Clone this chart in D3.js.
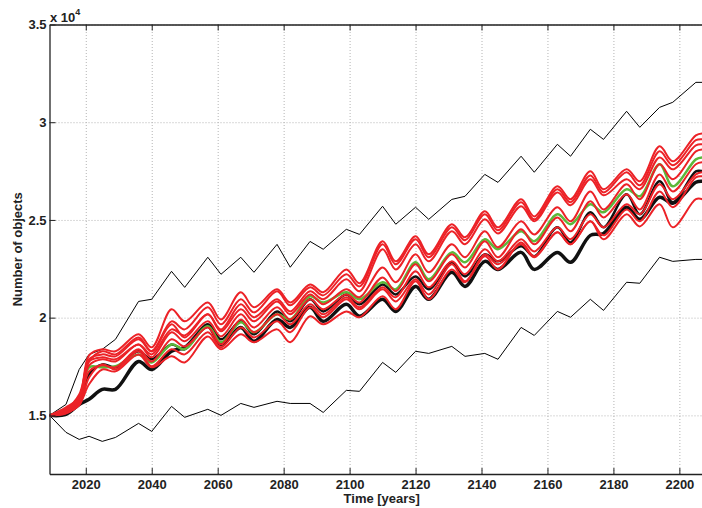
<!DOCTYPE html>
<html>
<head>
<meta charset="utf-8">
<script src="https://cdn.jsdelivr.net/npm/d3@7"></script>
<style>
  body { margin: 0; background: #fff; }
  svg { display: block; font-family: "Liberation Sans", Arial, sans-serif; }
  .tick text { font-size: 13px; font-weight: bold; fill: #222; }
  .grid line { stroke: #b4b4b4; stroke-dasharray: 1,2; }
  .grid path { display: none; }
</style>
</head>
<body>
<svg id="chart" width="702" height="508"></svg>
<script>
// sample years (peaks / troughs of the solar cycle wiggle)
const years = [2009, 2014, 2018, 2021, 2025, 2029, 2036, 2040, 2046, 2050, 2057, 2061, 2067, 2071, 2078, 2082,
  2088, 2092, 2099, 2103, 2110, 2114, 2120, 2124, 2131, 2135, 2141, 2145, 2152, 2156, 2163, 2167, 2173, 2177,
  2184, 2188, 2194, 2198, 2205, 2207];

// thin black: upper and lower bounds
const envHigh = [15000, 15560, 17350, 18120, 18380, 18890, 20830, 20940, 22370, 21550, 23090, 22220, 23090, 22320,
  23750, 22580, 23900, 23500, 24520, 24260, 25700, 24780, 25650, 25030, 26050, 26210, 27330, 26920, 28260, 27440,
  28870, 28260, 29640, 29120, 30560, 29740, 30760, 31020, 32040, 32040];
const envLow = [15000, 14130, 13770, 13930, 13670, 13870, 14590, 14180, 15460, 14900, 15310, 15000, 15610, 15410,
  15720, 15610, 15610, 15150, 16280, 16230, 17710, 17200, 18280, 18170, 18530, 18020, 18170, 17870, 19500, 19090,
  20320, 20020, 20940, 20370, 21810, 21760, 23090, 22880, 22980, 22980];

// thick black runs
const blackLow = [15000, 15050, 15560, 15820, 16330, 16330, 17760, 17350, 18280, 18480, 19560, 18630, 19500, 18790,
  19910, 19500, 20530, 19810, 20680, 20070, 20940, 20320, 21600, 20940, 22320, 21600, 22880, 22470, 23340, 22470,
  23340, 22830, 24210, 24310, 25650, 25030, 26160, 25850, 26930, 26980];
const blackMid = [15000, 15200, 15820, 17100, 17610, 17460, 18280, 17870, 18630, 18380, 19660, 18890, 19810, 19150,
  20320, 19810, 20940, 20320, 21190, 20680, 21700, 21190, 22110, 21450, 22830, 22110, 23240, 22880, 23650, 23140,
  24620, 23850, 25390, 24620, 26310, 25290, 26980, 25900, 27490, 27490];

// green run
const greenRun = [15000, 15310, 15820, 17460, 17460, 17510, 18120, 17710, 18630, 18380, 19560, 18740, 19760, 19250,
  20170, 19910, 21090, 20780, 21300, 20940, 21810, 21450, 22830, 21960, 23340, 22830, 24010, 23500, 24420, 23910,
  25290, 24780, 25800, 25390, 26570, 26210, 27850, 26720, 28100, 28200];

// red runs
const red1 = [15000, 15410, 15920, 18070, 18380, 18280, 19150, 18480, 20430, 19810, 20780, 19910, 21300, 20530,
  21450, 20780, 21700, 21300, 22470, 21760, 23910, 22880, 24160, 23240, 24780, 24110, 25440, 24620, 26060, 25180,
  26720, 26060, 27490, 26570, 27590, 26980, 28770, 28000, 29330, 29430];
const red2 = [15000, 15310, 15820, 17870, 18120, 18020, 18890, 18280, 19810, 19400, 20530, 19660, 20940, 20270,
  21350, 20630, 21550, 21140, 22220, 21600, 23750, 22730, 24010, 23090, 24620, 23960, 25290, 24470, 25900, 25030,
  26570, 25900, 27280, 26410, 27440, 26770, 28510, 27800, 29080, 29130];
const red3 = [15000, 15200, 15720, 17760, 17970, 17870, 18630, 18120, 19400, 19090, 20170, 19400, 20680, 20020,
  20940, 20320, 21350, 20940, 21960, 21350, 23500, 22470, 23750, 22880, 24420, 23750, 25030, 24310, 25700, 24930,
  26410, 25750, 27080, 26260, 27080, 26570, 28200, 27590, 28820, 28870];
const red4 = [15000, 15310, 16070, 17760, 18280, 18120, 18990, 18280, 19660, 18990, 20170, 19300, 20430, 19810,
  20830, 20170, 21190, 20680, 21450, 21040, 22570, 21810, 23240, 22320, 23750, 23090, 24420, 23600, 24930, 24260,
  25650, 24930, 26460, 25540, 26820, 26060, 27850, 27080, 28510, 28610];
const red5 = [15000, 15200, 15720, 17560, 17870, 17760, 18630, 17970, 19250, 18790, 19810, 19040, 20170, 19500,
  20530, 19910, 20940, 20430, 21190, 20780, 22060, 21350, 22730, 21860, 23240, 22570, 23910, 23090, 24520, 23750,
  25130, 24420, 25950, 25130, 26310, 25540, 27330, 26460, 27850, 27950];
const red6 = [15000, 15100, 15610, 17250, 17560, 17460, 18380, 17760, 18890, 18530, 19500, 18630, 19910, 19250,
  20170, 19660, 20680, 20170, 21040, 20530, 21550, 21040, 22370, 21550, 22880, 22220, 23500, 22880, 24010, 23390,
  24620, 24010, 25290, 24620, 25800, 25290, 26820, 26060, 27330, 27440];
const red7 = [15000, 15150, 15510, 16940, 17610, 17350, 18280, 17510, 18380, 18120, 19250, 18480, 19500, 18990,
  19810, 19250, 20530, 20020, 20940, 20430, 21450, 20830, 21960, 21190, 22730, 21860, 23240, 22730, 23750, 23090,
  24370, 23750, 24930, 24210, 25540, 24930, 26460, 25650, 27180, 27230];
const red8 = [15000, 15100, 15560, 16590, 17350, 17250, 18120, 17460, 18020, 17710, 19040, 18380, 19150, 18740,
  19400, 18740, 20070, 19660, 20320, 20020, 21090, 20430, 21860, 20940, 22470, 21810, 23140, 22470, 23850, 23140,
  24370, 23750, 24930, 24010, 25290, 24670, 25800, 24620, 26060, 26060];

// axis ticks
const xTicks = [2020, 2040, 2060, 2080, 2100, 2120, 2140, 2160, 2180, 2200];
const yTicks = [15000, 20000, 25000, 30000, 35000];

// the axes box runs past the right edge of the picture (cropped)
var box = { left: 49.5, right: 714, top: 24.5, bottom: 474 };

var svg = d3.select('#chart');

var x = d3.scaleLinear().domain([2009, 2210.5]).range([box.left, box.right]);
var y = d3.scaleLinear().domain([12000, 35000]).range([box.bottom, box.top]);

// dotted grid
svg.append('g')
    .attr('class', 'grid')
    .attr('transform', 'translate(0,' + box.bottom + ')')
    .call(d3.axisBottom(x).tickValues(xTicks).tickSize(-(box.bottom - box.top)).tickFormat(''));
svg.append('g')
    .attr('class', 'grid')
    .attr('transform', 'translate(' + box.left + ',0)')
    .call(d3.axisLeft(y).tickValues(yTicks).tickSize(-(box.right - box.left)).tickFormat(''));

svg.append('clipPath').attr('id', 'plot')
    .append('rect')
    .attr('x', box.left).attr('y', box.top)
    .attr('width', box.right - box.left).attr('height', box.bottom - box.top);

var plot = svg.append('g').attr('clip-path', 'url(#plot)');

var wavy = d3.line()
    .x(function (d, i) { return x(years[i]); })
    .y(function (d) { return y(d); })
    .curve(d3.curveCatmullRom.alpha(0.5));
var jagged = d3.line()
    .x(function (d, i) { return x(years[i]); })
    .y(function (d) { return y(d); });

// draw order: bounds, black runs, green, reds on top
var runs = [
    { data: envHigh, color: '#000', width: 1, line: jagged },
    { data: envLow, color: '#000', width: 1, line: jagged },
    { data: blackLow, color: '#111', width: 3.5, line: wavy },
    { data: blackMid, color: '#111', width: 2.5, line: wavy },
    { data: greenRun, color: '#5cb83a', width: 2.5, line: wavy }
];
[red8, red7, red6, red5, red4, red3, red2, red1].forEach(function (r) {
    runs.push({ data: r, color: '#ec2227', width: 2, line: wavy });
});

plot.selectAll('path.run')
    .data(runs)
    .enter().append('path')
    .attr('class', 'run')
    .attr('d', function (d) { return d.line(d.data); })
    .attr('fill', 'none')
    .attr('stroke', function (d) { return d.color; })
    .attr('stroke-width', function (d) { return d.width; })
    .attr('stroke-linejoin', 'round');

// axes with inward ticks
svg.append('g')
    .attr('class', 'axis')
    .attr('transform', 'translate(0,' + box.bottom + ')')
    .call(d3.axisBottom(x).tickValues(xTicks).tickSizeInner(-6).tickSizeOuter(0).tickPadding(6)
        .tickFormat(d3.format('d')));
svg.append('g')
    .attr('class', 'axis')
    .attr('transform', 'translate(0,' + box.top + ')')
    .call(d3.axisTop(x).tickValues(xTicks).tickSizeInner(-6).tickSizeOuter(0).tickFormat(''));
svg.append('g')
    .attr('class', 'axis')
    .attr('transform', 'translate(' + box.left + ',0)')
    .call(d3.axisLeft(y).tickValues(yTicks).tickSizeInner(-6).tickSizeOuter(0).tickPadding(3)
        .tickFormat(function (d) { return d / 1e4; }));

svg.selectAll('.axis .domain').attr('stroke', '#222').attr('stroke-width', 1.3);
svg.selectAll('.axis .tick line').attr('stroke', '#222');

// exponent label
var expo = svg.append('text')
    .attr('x', 50).attr('y', 22)
    .style('font-size', '13px').style('font-weight', 'bold').attr('fill', '#222')
    .text('x 10');
expo.append('tspan').attr('dy', -7).style('font-size', '9px').text('4');

// axis titles
svg.append('text')
    .attr('x', (box.left + box.right) / 2).attr('y', 503)
    .attr('text-anchor', 'middle')
    .style('font-size', '13px').style('font-weight', 'bold').attr('fill', '#222')
    .text('Time [years]');
svg.append('text')
    .attr('transform', 'translate(22,' + (box.top + box.bottom) / 2 + ') rotate(-90)')
    .attr('text-anchor', 'middle')
    .style('font-size', '13px').style('font-weight', 'bold').attr('fill', '#222')
    .text('Number of objects');
</script>
</body>
</html>
